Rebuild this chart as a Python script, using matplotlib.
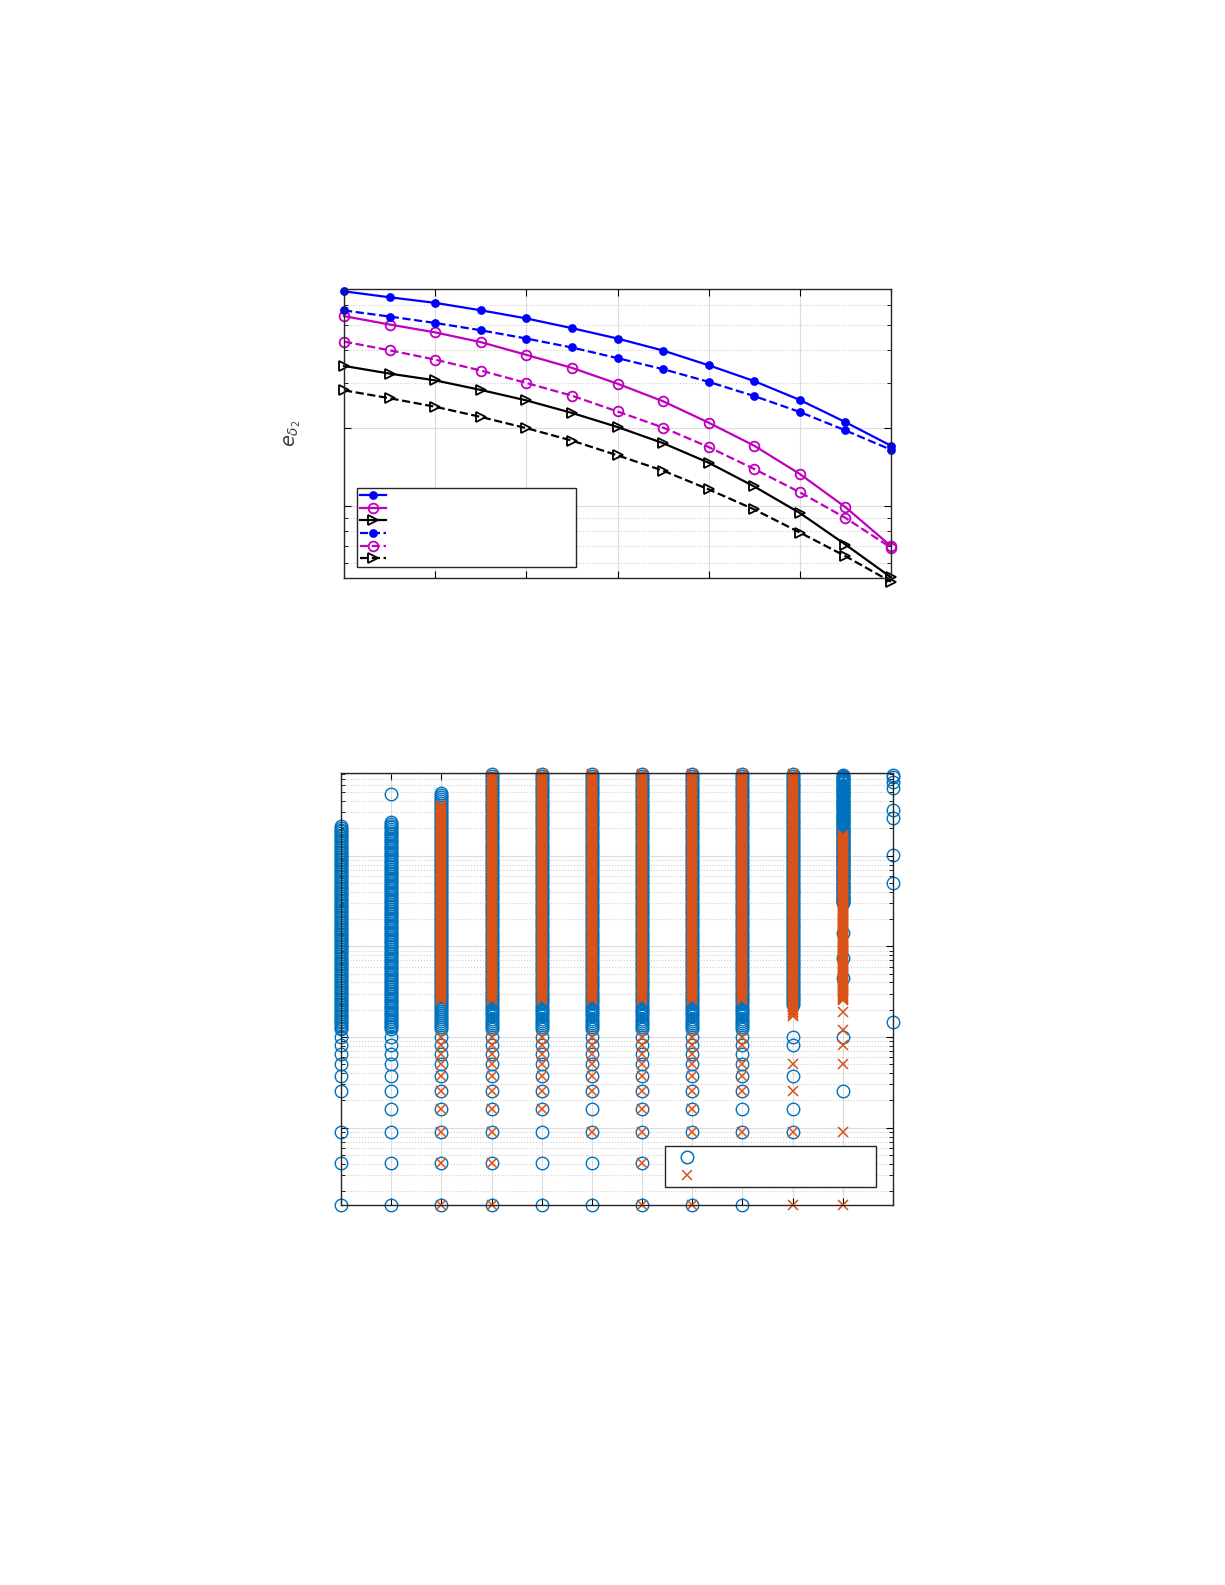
import numpy as np
import matplotlib.pyplot as plt

# ---- top panel data (x index 0..12, values on log scale) ----
x_top = np.arange(13)
blue_solid = [6.76, 6.41, 6.10, 5.71, 5.31, 4.87, 4.44, 3.99, 3.50, 3.04, 2.57, 2.11, 1.71]
blue_dash = [5.70, 5.40, 5.10, 4.78, 4.44, 4.10, 3.73, 3.38, 3.02, 2.66, 2.31, 1.96, 1.65]
mag_solid = [5.42, 5.03, 4.69, 4.30, 3.84, 3.42, 2.97, 2.54, 2.10, 1.71, 1.33, 0.99, 0.70]
mag_dash = [4.32, 4.00, 3.68, 3.34, 2.99, 2.67, 2.32, 2.01, 1.69, 1.39, 1.13, 0.90, 0.69]
blk_solid = [3.48, 3.25, 3.06, 2.81, 2.56, 2.29, 2.02, 1.75, 1.47, 1.19, 0.94, 0.71, 0.53]
blk_dash = [2.80, 2.61, 2.42, 2.21, 2.00, 1.79, 1.57, 1.37, 1.16, 0.97, 0.79, 0.64, 0.51]

# ---- bottom panel data: 12 columns ----
levels = [0.14, 0.41, 0.9, 1.62, 2.55, 3.72, 5.0, 6.5, 8.2, 10]
blue_bands = [(12.2, 2120), (12.2, 2340), (12.2, 4900), (12.2, 8000), (12.2, 8000), (12.2, 8000),
              (12.2, 8000), (12.2, 8000), (12.2, 8000), (22.4, 8000), (300, 7800), None]
orange_bands = [None, None, (25.7, 3630), (25.7, 7800), (25.7, 8000), (25.7, 8000),
                (25.7, 8000), (25.7, 8000), (25.7, 8000), (17, 8000), (25.7, 1700), None]
blue_pts = [
    [0.14, 0.41, 0.9, 2.55, 3.72, 5.0, 6.5, 8.2, 10],
    levels + [4800],
    levels, levels, levels, levels, levels, levels, levels,
    [0.9, 1.62, 3.72, 8.2, 10],
    [2.55, 10, 45, 74, 141],
    [14.6, 500, 1020, 2630, 3160, 5600, 6500, 7400, 7800],
]
orange_pts = [
    [], [], levels, levels,
    [1.62, 2.55, 3.72, 5.0, 6.5, 8.2, 10],
    [0.9, 2.55, 3.72, 5.0, 6.5, 8.2, 10],
    levels, levels,
    [0.9, 2.55, 3.72, 5.0, 8.2, 10],
    [0.14, 0.9, 2.55, 5.0],
    [0.14, 0.9, 5.0, 8.2, 12, 19],
    [],
]

BLUE = '#0072BD'
ORANGE = '#D95319'

fig = plt.figure(figsize=(12.25, 15.85), dpi=100)


def style(ax):
    ax.tick_params(which='both', direction='in', top=True, right=True,
                   labelbottom=False, labelleft=False)
    ax.tick_params(which='major', length=5)
    ax.tick_params(which='minor', length=3)
    for s in ax.spines.values():
        s.set_linewidth(1.0)
        s.set_color('#262626')


# ---- top axes ----
ax1 = fig.add_axes([344 / 1225, 1 - 578 / 1585, 547 / 1225, 289 / 1585])
ax1.set_yscale('log')
specs = [
    (blue_solid, 'b', '-', 'o', 'b'),
    (mag_solid, 'm', '-', 'o', 'none'),
    (blk_solid, 'k', '-', '>', 'none'),
    (blue_dash, 'b', '--', 'o', 'b'),
    (mag_dash, 'm', '--', 'o', 'none'),
    (blk_dash, 'k', '--', '>', 'none'),
]
handles = []
for ys, c, ls, mk, fc in specs:
    ms = 5 if fc != 'none' else 7
    h, = ax1.plot(x_top, ys, color=c, ls=ls, marker=mk, mfc=fc, ms=ms, lw=1.6,
                  mew=1.3, clip_on=False)
    handles.append(h)
ax1.set_xlim(0, 12)
ax1.set_ylim(0.527, 6.9)
ax1.set_xticks(range(0, 13, 2))
ax1.set_yticks([1, 2])
ax1.set_yticks([0.6, 0.7, 0.8, 0.9, 3, 4, 5, 6], minor=True)
ax1.grid(which='major', color='#dcdcdc', lw=0.8)
ax1.grid(which='minor', axis='y', color='#cfcfcf', ls=':', lw=0.8)
style(ax1)
ax1.set_ylabel(r'$e_{\delta_2}$', fontsize=14, color='#404040')
ax1.yaxis.set_label_coords(-0.075, 0.5)
ax1.legend(handles, [' '] * 6, loc='lower left', mode='expand',
           bbox_to_anchor=(0.024, 0.038, 0.40, 0.30), fancybox=False,
           edgecolor='#262626', framealpha=1, handlelength=2.5,
           fontsize=7.5, labelspacing=0.25, borderaxespad=0, borderpad=0.3)

# ---- bottom axes ----
ax2 = fig.add_axes([341 / 1225, 1 - 1205 / 1585, 552 / 1225, 432 / 1585])
ax2.set_yscale('log')
for i in range(12):
    if blue_bands[i]:
        b = np.geomspace(*blue_bands[i], 120)
        ax2.plot(np.full(b.size, i), b, 'o', mfc='none', mec=BLUE, ms=9, mew=1.0, clip_on=False)
    bp = blue_pts[i]
    ax2.plot(np.full(len(bp), i), bp, 'o', mfc='none', mec=BLUE, ms=9, mew=1.0, clip_on=False)
for i in range(12):
    if orange_bands[i]:
        o = np.geomspace(*orange_bands[i], 160)
        ax2.plot(np.full(o.size, i), o, 'x', color=ORANGE, ms=7, mew=1.1, clip_on=False)
    op = orange_pts[i]
    ax2.plot(np.full(len(op), i), op, 'x', color=ORANGE, ms=7, mew=1.1, clip_on=False)
hb, = ax2.plot([], [], 'o', mfc='none', mec=BLUE, ms=9, mew=1.1)
ho, = ax2.plot([], [], 'x', color=ORANGE, ms=7, mew=1.1)
ax2.set_xlim(0, 11)
ax2.set_ylim(0.1406, 8170)
ax2.set_xticks(range(12))
ax2.grid(which='major', color='#dcdcdc', lw=0.8)
ax2.grid(which='minor', axis='y', color='#cfcfcf', ls=':', lw=0.8)
style(ax2)
ax2.legend([hb, ho], [' ', ' '], loc='lower left', mode='expand',
           bbox_to_anchor=(0.587, 0.042, 0.382, 0.104), fancybox=False,
           edgecolor='#262626', framealpha=1, handlelength=2.5,
           borderaxespad=0, labelspacing=0.3, borderpad=0.3)

fig.savefig('out.png', dpi=100)
